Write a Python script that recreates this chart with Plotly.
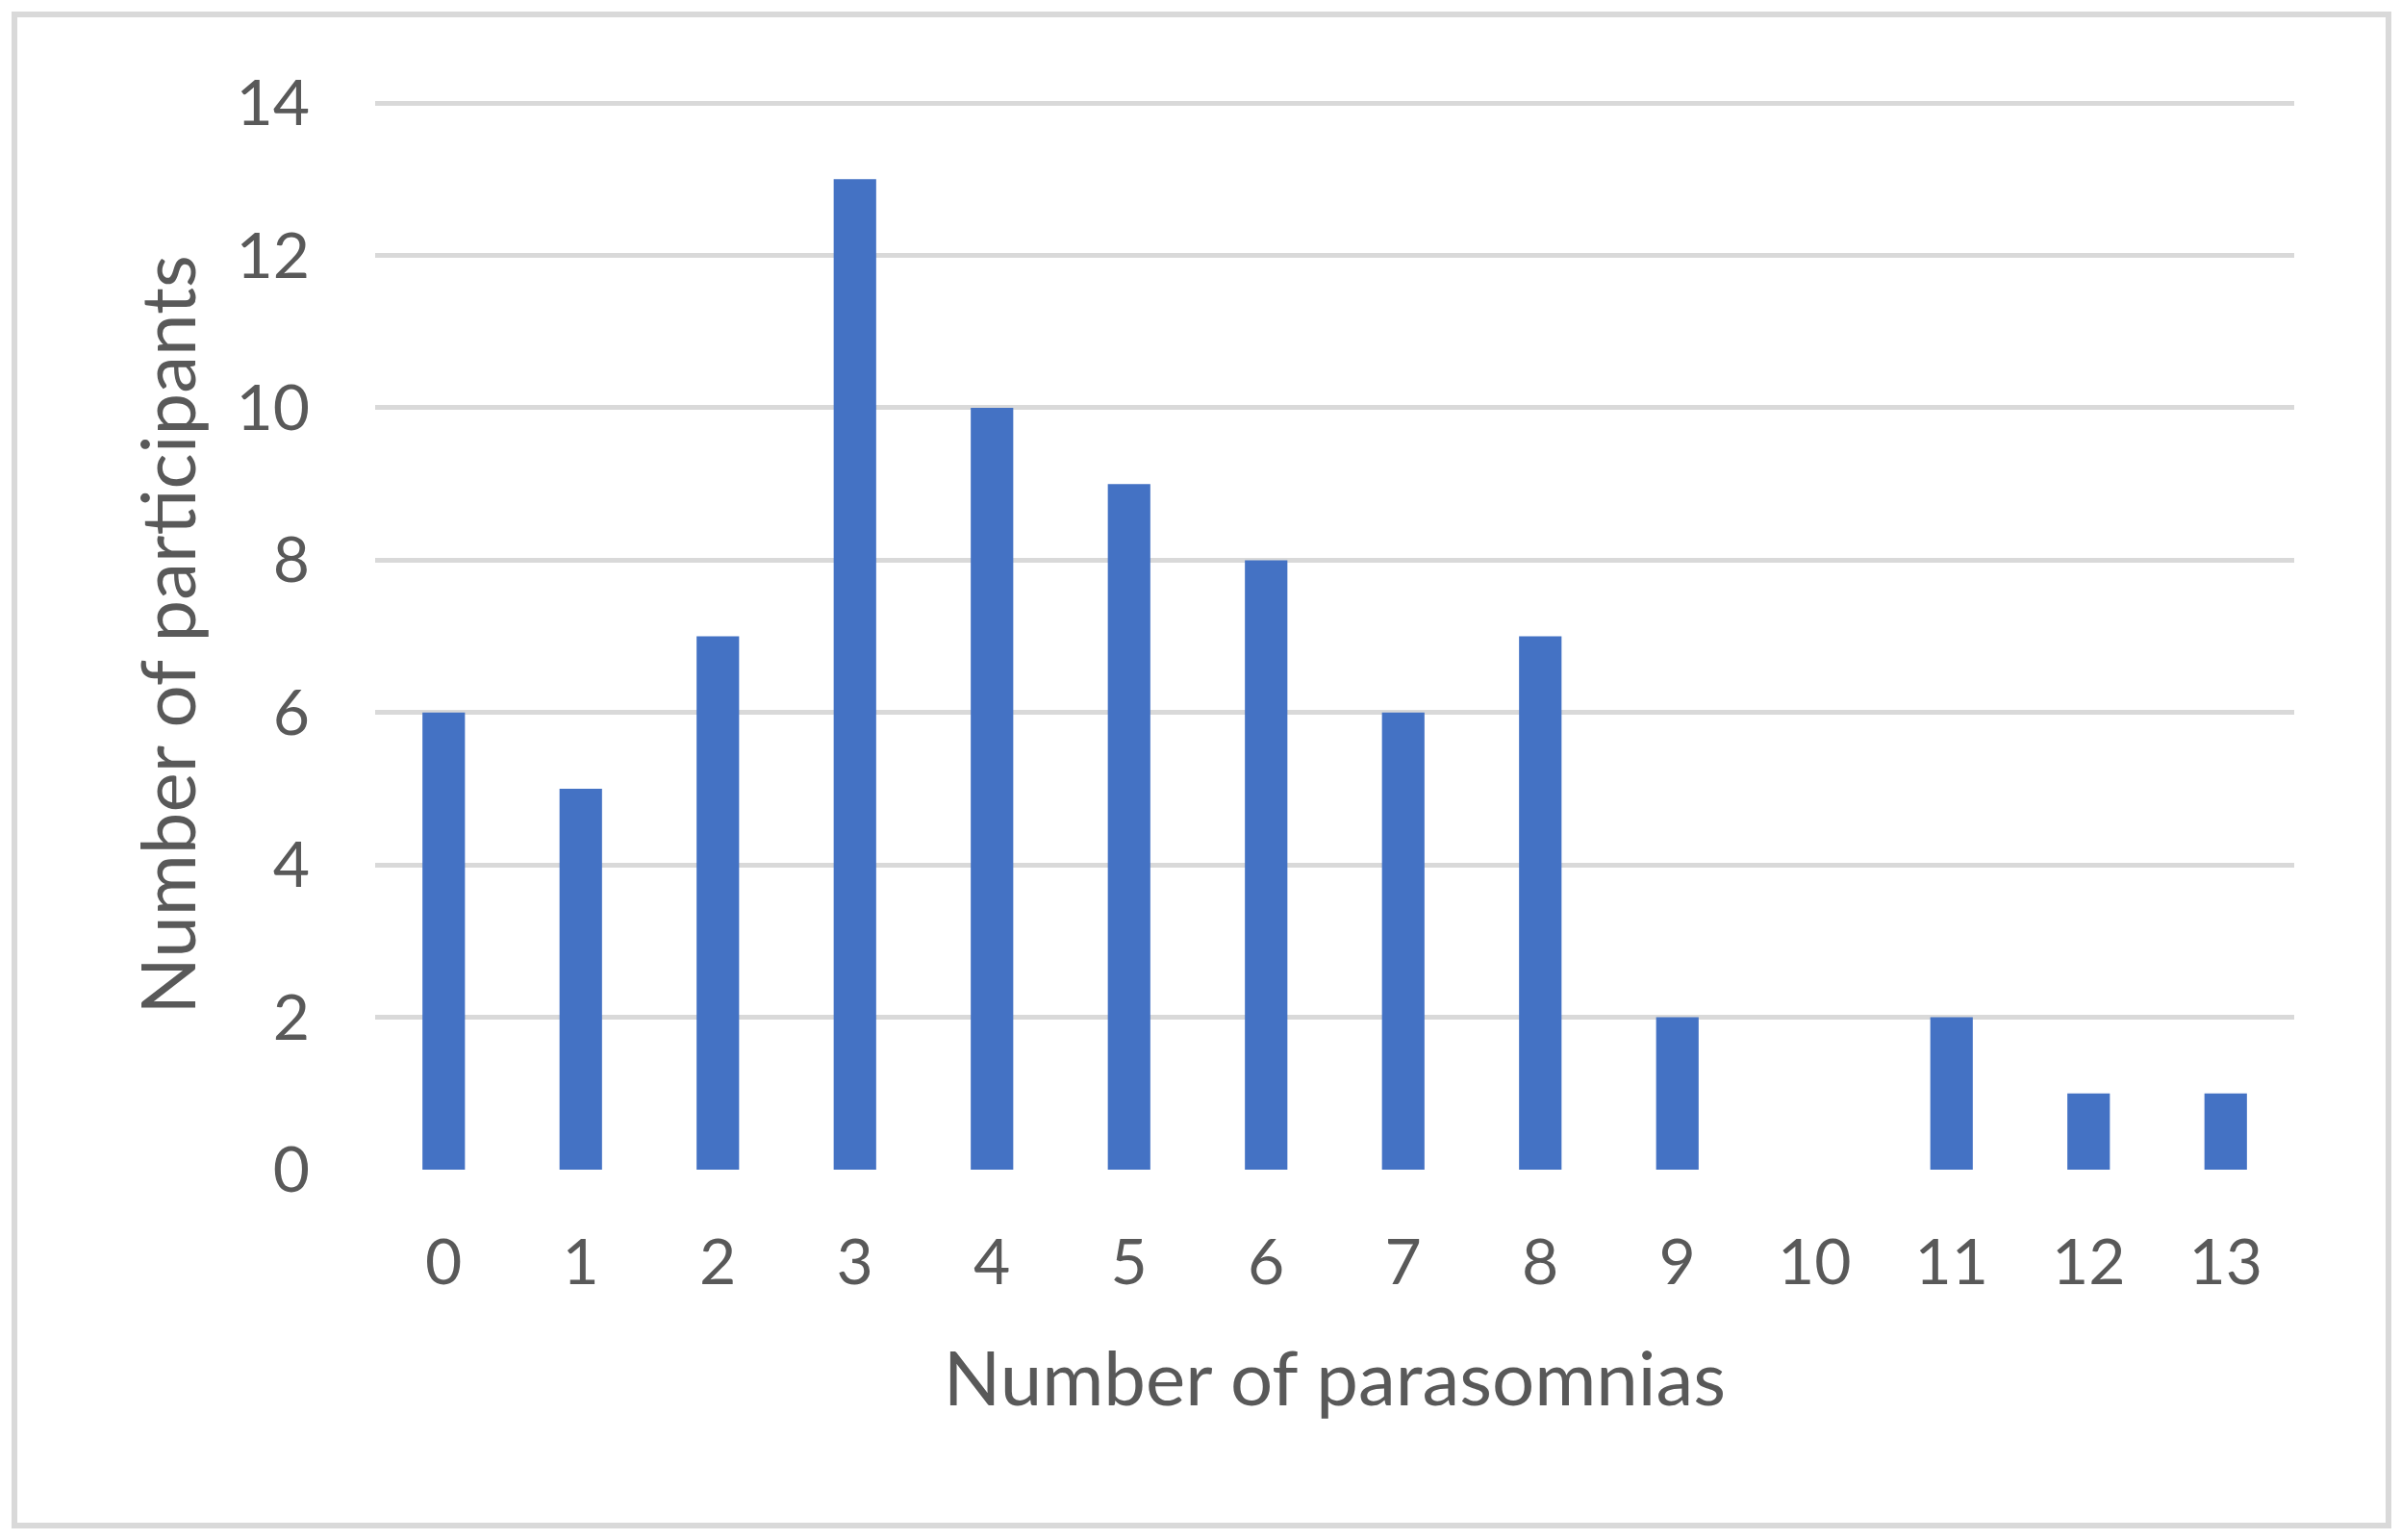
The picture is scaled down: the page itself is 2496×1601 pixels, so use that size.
import plotly.graph_objects as go

# data
parasomnias = list(range(14))
participants = [6, 5, 7, 13, 10, 9, 8, 6, 7, 2, 0, 2, 1, 1]
y_ticks = [0, 2, 4, 6, 8, 10, 12, 14]

BAR_COLOR = "#4472C4"
GRID_COLOR = "#D9D9D9"
TEXT_COLOR = "#595959"
FONT_NAME = "Lato"

# page is offset by the default 8px body margin, so keep the figure inside the window
PAGE_OFF = 8
W, H = 2496 - 2 * PAGE_OFF, 1601 - 2 * PAGE_OFF
M_L, M_R, M_T, M_B = 390 - PAGE_OFF, 103, 107 - PAGE_OFF - 3, 377

fig = go.Figure()
fig.add_trace(go.Bar(
    x=parasomnias, y=participants, width=0.31,
    marker=dict(color=BAR_COLOR, line=dict(width=0)),
))

# chart area border (Excel style), pixels converted to paper units
pw, ph = W - M_L - M_R, H - M_T - M_B
bx0, bx1, by0, by1 = 15 - PAGE_OFF, 2483 - PAGE_OFF, 15 - PAGE_OFF, 1586 - PAGE_OFF
fig.add_shape(
    type="rect", xref="paper", yref="paper",
    x0=(bx0 - M_L) / pw, x1=(bx1 - M_L) / pw,
    y0=(H - M_B - by1) / ph, y1=(H - M_B - by0) / ph,
    line=dict(color=GRID_COLOR, width=6), fillcolor="rgba(0,0,0,0)", layer="below",
)

fig.update_layout(
    width=W, height=H,
    margin=dict(l=M_L, r=M_R, t=M_T, b=M_B),
    plot_bgcolor="white", paper_bgcolor="white",
    font=dict(family=FONT_NAME, color=TEXT_COLOR, size=66),
    showlegend=False,
)
fig.update_xaxes(
    range=[-0.5, 13.5], tickmode="array", tickvals=parasomnias,
    ticktext=[str(v) for v in parasomnias],
    showgrid=False, zeroline=False, showline=False,
    ticks="", ticklabelstandoff=52,
    tickfont=dict(size=66, color=TEXT_COLOR),
    title=dict(text="Number of parasomnias", font=dict(size=78, color=TEXT_COLOR), standoff=58),
)
fig.update_yaxes(
    # small headroom so the gridline at 14 is not clipped at the plot edge
    range=[0, 14.04], tickmode="array", tickvals=y_ticks,
    showgrid=True, gridcolor=GRID_COLOR, gridwidth=5,
    zeroline=False, showline=False,
    ticks="", ticklabelstandoff=67,
    tickfont=dict(size=66, color=TEXT_COLOR),
    title=dict(text="Number of participants", font=dict(size=78, color=TEXT_COLOR), standoff=16),
)

fig.write_html("out.html")
